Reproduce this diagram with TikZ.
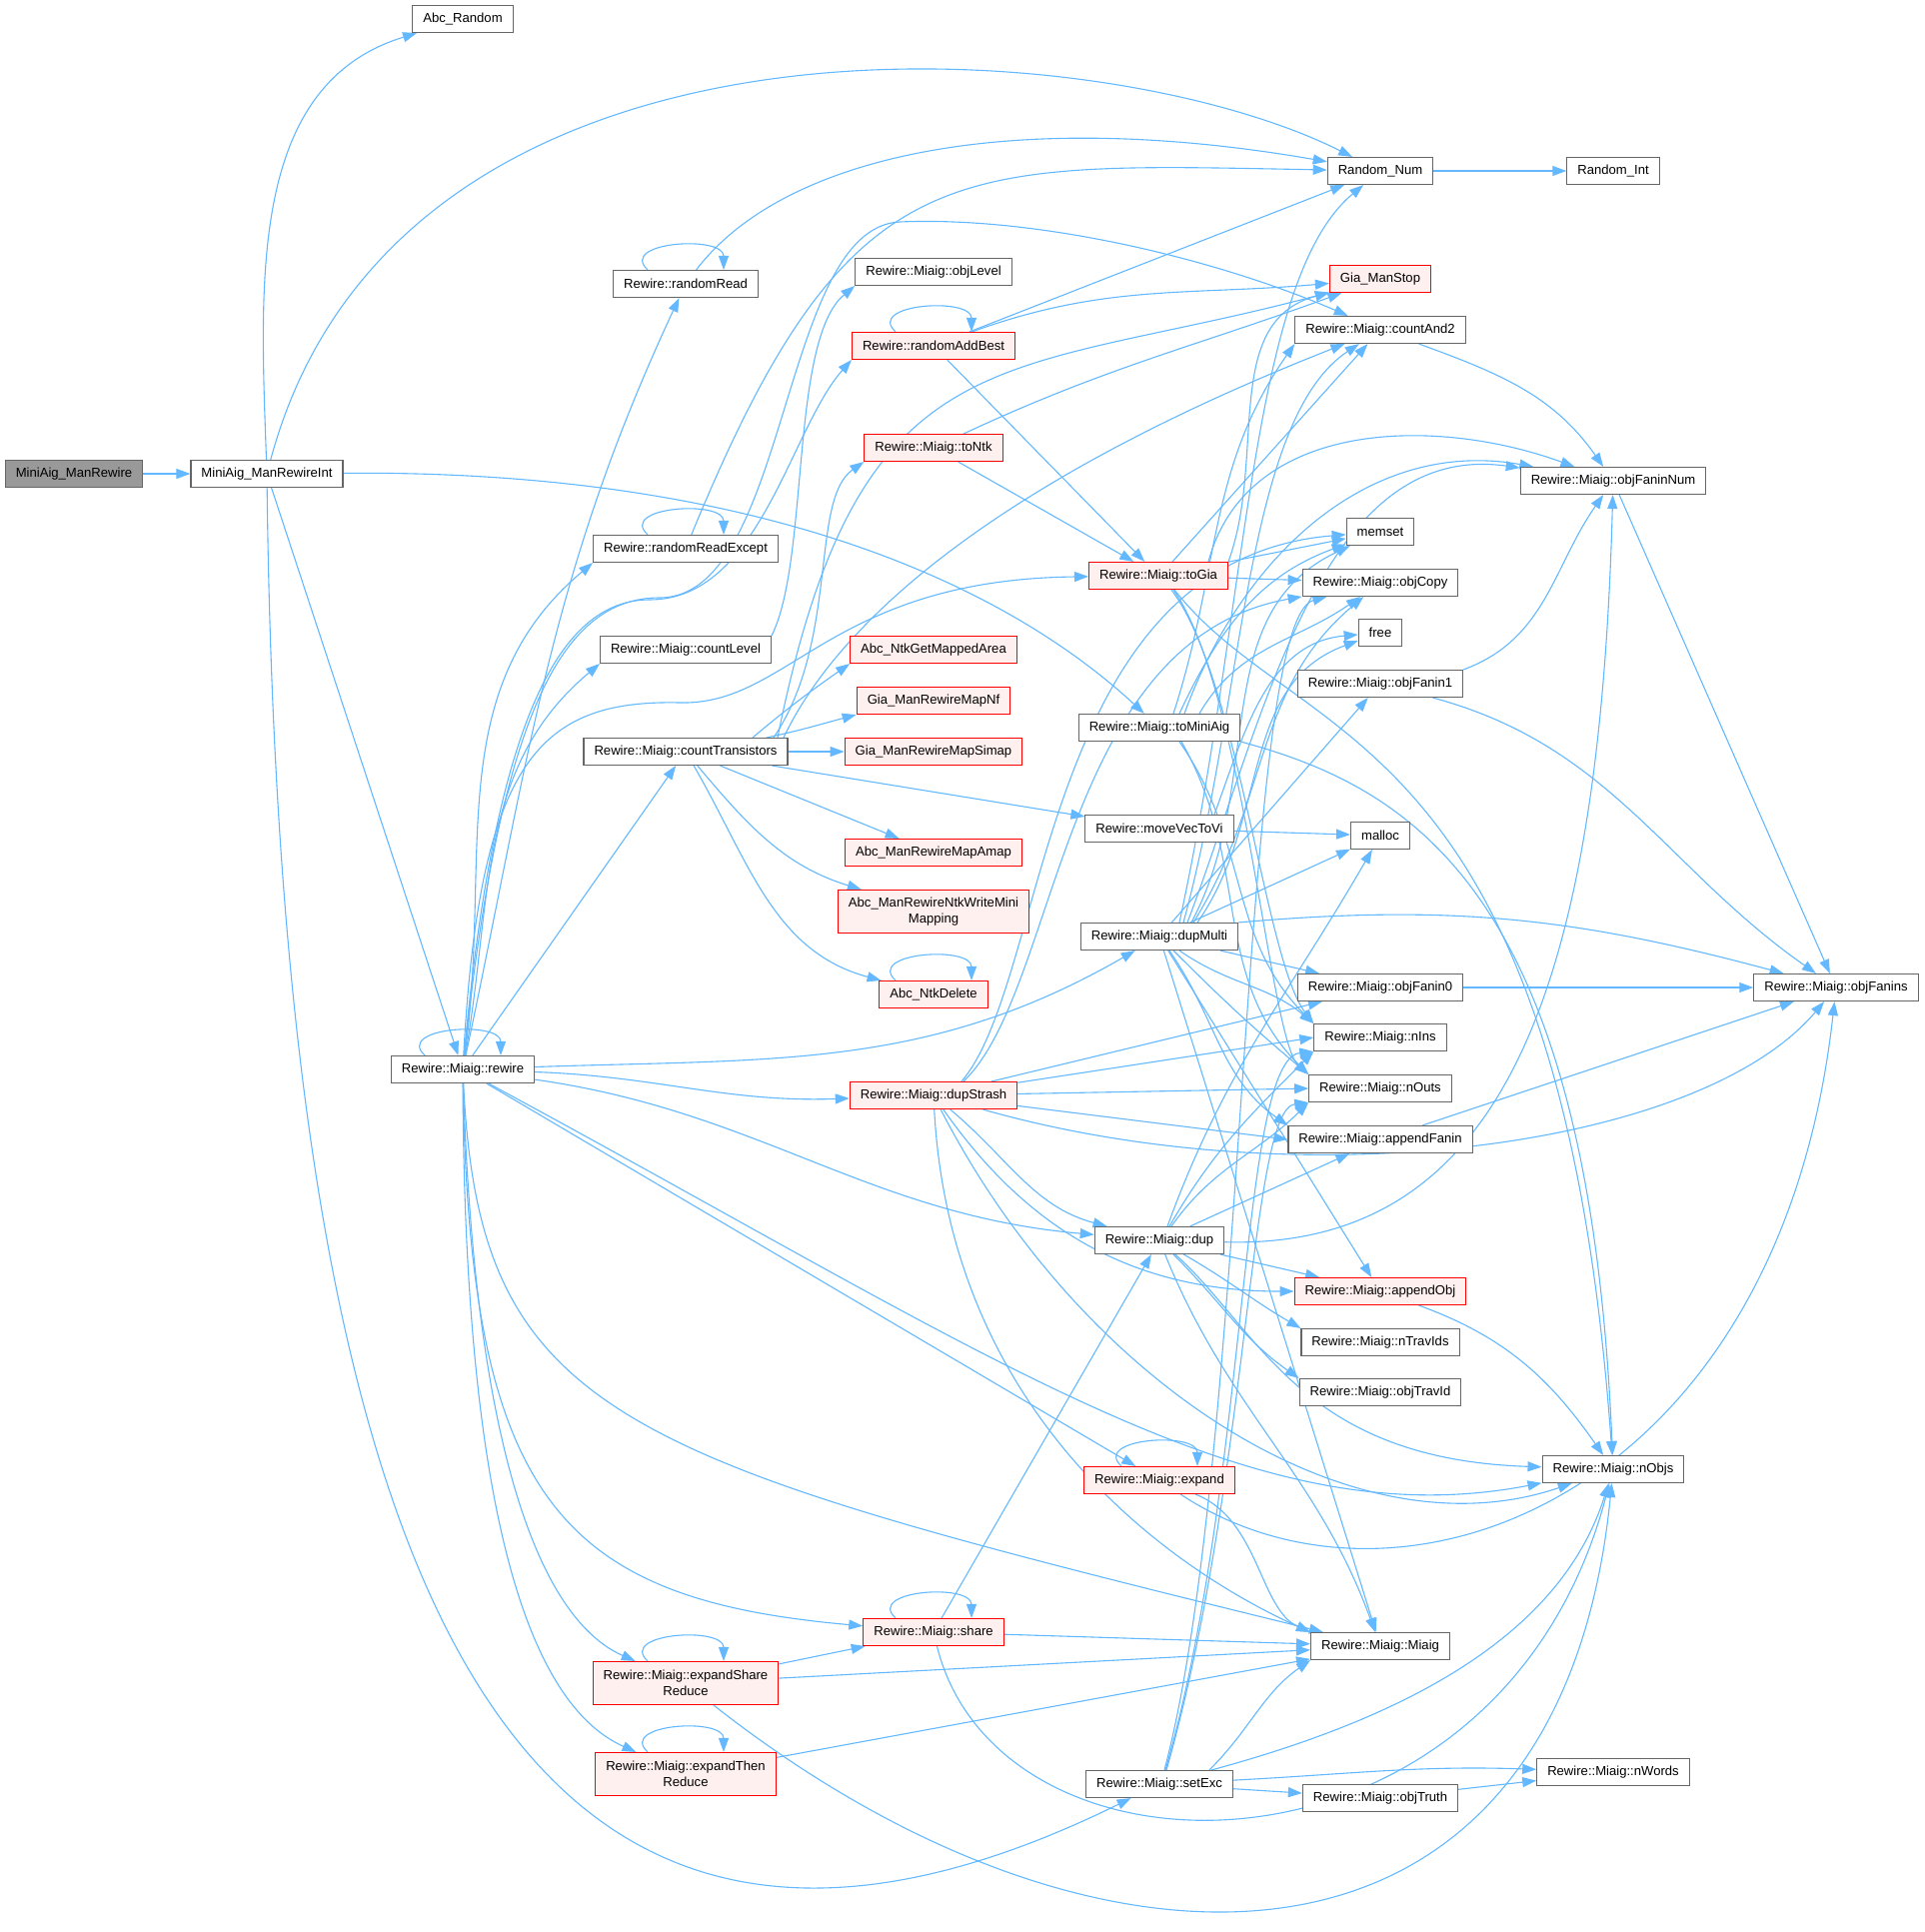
\documentclass[tikz,border=0pt]{standalone}
\usepackage{fontspec}
\setmainfont{Liberation Sans}
\usetikzlibrary{arrows.meta}
\definecolor{edgeBlue}{HTML}{63B8FF}
\definecolor{redFill}{HTML}{FFF0F0}
\definecolor{rootFill}{HTML}{999999}
\definecolor{borderGray}{HTML}{666666}
\pgfdeclarelayer{background}
\pgfsetlayers{background,main}

\begin{document}
\begin{tikzpicture}[x=1pt, y=1pt,
    fnbox/.style={draw=borderGray, line width=1.1pt, fill=white,
                  font=\fontsize{13.1}{16}\selectfont, inner xsep=10.5pt,
                  inner ysep=0pt, minimum height=27pt, align=center},
    redbox/.style={fnbox, draw=red, fill=redFill},
    rootbox/.style={fnbox, fill=rootFill},
    twoline/.style={minimum height=43pt},
    call/.style={draw=edgeBlue, line width=1.1pt, -{Triangle[length=14pt, width=10pt]}}
]
    \useasboundingbox (0,0) rectangle (1926,-1933);

    % callers on the left
    \node[rootbox] (root) at (74,-474) {MiniAig\_ManRewire};
    \node[fnbox] (rwint) at (267,-474) {MiniAig\_ManRewireInt};
    \node[fnbox] (abcrand) at (463,-19) {Abc\_Random};
    \node[fnbox] (rewire) at (463,-1070) {Rewire::Miaig::rewire};

    % second column
    \node[fnbox] (rread) at (686,-284) {Rewire::randomRead};
    \node[fnbox] (rreadex) at (686,-549) {Rewire::randomReadExcept};
    \node[fnbox] (clevel) at (686,-650) {Rewire::Miaig::countLevel};
    \node[fnbox] (ctrans) at (686,-752) {Rewire::Miaig::countTransistors};
    \node[redbox, twoline] (esr) at (686,-1684) {Rewire::Miaig::expandShare\\Reduce};
    \node[redbox, twoline] (etr) at (686,-1775) {Rewire::Miaig::expandThen\\Reduce};

    % third column
    \node[fnbox] (objlevel) at (934,-272) {Rewire::Miaig::objLevel};
    \node[redbox] (rabest) at (934,-346) {Rewire::randomAddBest};
    \node[redbox] (tontk) at (934,-448) {Rewire::Miaig::toNtk};
    \node[redbox] (mapped) at (934,-650) {Abc\_NtkGetMappedArea};
    \node[redbox] (mapnf) at (934,-701) {Gia\_ManRewireMapNf};
    \node[redbox] (mapsimap) at (934,-752) {Gia\_ManRewireMapSimap};
    \node[redbox] (mapamap) at (934,-853) {Abc\_ManRewireMapAmap};
    \node[redbox, twoline] (writemini) at (934,-912) {Abc\_ManRewireNtkWriteMini\\Mapping};
    \node[redbox] (ntkdel) at (934,-995) {Abc\_NtkDelete};
    \node[redbox] (dupstrash) at (934,-1096) {Rewire::Miaig::dupStrash};
    \node[redbox] (share) at (934,-1633) {Rewire::Miaig::share};

    % fourth column
    \node[redbox] (togia) at (1159,-576) {Rewire::Miaig::toGia};
    \node[fnbox] (tomini) at (1160,-728) {Rewire::Miaig::toMiniAig};
    \node[fnbox] (movevec) at (1160,-829) {Rewire::moveVecToVi};
    \node[fnbox] (dupmulti) at (1160,-937) {Rewire::Miaig::dupMulti};
    \node[fnbox] (dup) at (1160,-1241) {Rewire::Miaig::dup};
    \node[redbox] (expand) at (1160,-1481) {Rewire::Miaig::expand};
    \node[fnbox] (setexc) at (1160,-1785) {Rewire::Miaig::setExc};

    % fifth column
    \node[fnbox] (rnum) at (1381,-171) {Random\_Num};
    \node[redbox] (giastop) at (1381,-279) {Gia\_ManStop};
    \node[fnbox] (cand2) at (1381,-330) {Rewire::Miaig::countAnd2};
    \node[fnbox] (memset) at (1381,-532) {memset};
    \node[fnbox] (objcopy) at (1381,-583) {Rewire::Miaig::objCopy};
    \node[fnbox] (free) at (1381,-633) {free};
    \node[fnbox] (fanin1) at (1381,-684) {Rewire::Miaig::objFanin1};
    \node[fnbox] (malloc) at (1381,-836) {malloc};
    \node[fnbox] (fanin0) at (1381,-988) {Rewire::Miaig::objFanin0};
    \node[fnbox] (nins) at (1381,-1038) {Rewire::Miaig::nIns};
    \node[fnbox] (nouts) at (1381,-1089) {Rewire::Miaig::nOuts};
    \node[fnbox] (appfanin) at (1381,-1140) {Rewire::Miaig::appendFanin};
    \node[redbox] (appobj) at (1381,-1292) {Rewire::Miaig::appendObj};
    \node[fnbox] (ntrav) at (1381,-1343) {Rewire::Miaig::nTravIds};
    \node[fnbox] (travid) at (1381,-1393) {Rewire::Miaig::objTravId};
    \node[fnbox] (miaig) at (1381,-1647) {Rewire::Miaig::Miaig};
    \node[fnbox] (objtruth) at (1381,-1799) {Rewire::Miaig::objTruth};

    % right columns
    \node[fnbox] (rint) at (1614,-171) {Random\_Int};
    \node[fnbox] (faninnum) at (1614,-481) {Rewire::Miaig::objFaninNum};
    \node[fnbox] (nobjs) at (1614,-1470) {Rewire::Miaig::nObjs};
    \node[fnbox] (nwords) at (1614,-1773) {Rewire::Miaig::nWords};
    \node[fnbox] (fanins) at (1837,-988) {Rewire::Miaig::objFanins};

    \begin{pgfonlayer}{background}
    % recursive calls
    \foreach \n in {rewire, rread, rreadex, rabest, ntkdel, expand, share, esr, etr}
        \draw[call] ([xshift=-38pt]\n.north) .. controls +(-30,28) and +(0,35) .. ([xshift=38pt]\n.north);

    % MiniAig_ManRewireInt
    \draw[call] (root) -- (rwint);
    \draw[call] (rwint) to[out=92, in=197] (abcrand);
    \draw[call] (rwint) .. controls (400,20) and (1100,-30) .. (rnum);
    \draw[call] (rwint) .. controls (750,-470) and (1000,-580) .. (tomini);
    \draw[call] (rwint) -- (rewire);
    \draw[call] (rwint) .. controls (280,-1520) and (480,-2120) .. (setexc);
    \draw[call] (rnum) -- (rint);

    % rewire
    \draw[call] (rewire) to[out=78, in=245] (rread);
    \draw[call] (rewire) to[out=82, in=220] (rreadex.south west);
    \draw[call] (rewire) to[out=80, in=220] (clevel.south west);
    \draw[call] (rewire) -- (ctrans);
    \draw[call] (rewire) .. controls (495,-720) and (560,-600) .. (650,-600)
        .. controls (760,-600) and (790,-430) .. (rabest.south west);
    \draw[call] (rewire) .. controls (500,-720) and (560,-598) .. (660,-598)
        .. controls (790,-598) and (780,-228) .. (900,-222)
        .. controls (1040,-216) and (1220,-260) .. (cand2);
    \draw[call] (rewire) .. controls (480,-760) and (540,-700) .. (680,-703)
        .. controls (790,-706) and (830,-580) .. (togia);
    \draw[call] (rewire) to[out=2, in=210] (dupmulti);
    \draw[call] (rewire) to[out=-2, in=182] (dupstrash);
    \draw[call] (rewire) to[out=-8, in=175] (dup);
    \draw[call] (rewire) -- (expand);
    \draw[call] (rewire) .. controls (1000,-1360) and (1250,-1540) .. (nobjs);
    \draw[call] (rewire) .. controls (480,-1420) and (620,-1460) .. (miaig);
    \draw[call] (rewire) .. controls (470,-1500) and (560,-1600) .. (share);
    \draw[call] (rewire) .. controls (475,-1450) and (540,-1620) .. (esr);
    \draw[call] (rewire) .. controls (465,-1550) and (540,-1710) .. (etr);

    \draw[call] (rread) .. controls (780,-160) and (1000,-105) .. (rnum);
    \draw[call] (rreadex) .. controls (850,-150) and (950,-163) .. (rnum);
    \draw[call] (clevel.north east) .. controls (810,-560) and (790,-340) .. (objlevel.south west);

    % countTransistors
    \draw[call] ([xshift=67pt]ctrans.north) to[out=40, in=215] (mapped.south west);
    \draw[call] ([xshift=81pt]ctrans.north) to[out=12, in=195] (mapnf.south west);
    \draw[call] (ctrans) -- (mapsimap);
    \draw[call] (ctrans) -- (mapamap);
    \draw[call] (ctrans) to[out=-50, in=163] (writemini);
    \draw[call] (ctrans) to[out=-60, in=165] (ntkdel);
    \draw[call] (ctrans) -- (movevec);
    \draw[call] ([xshift=88pt]ctrans.north) .. controls (840,-640) and (810,-500) .. (tontk.south west);
    \draw[call] ([xshift=92pt]ctrans.north) .. controls (860,-330) and (1000,-380) .. (giastop);
    \draw[call] ([xshift=98pt]ctrans.north) .. controls (840,-620) and (1000,-480) .. (cand2);

    \draw[call] (rabest) -- (rnum);
    \draw[call] (rabest) to[out=20, in=185] (giastop);
    \draw[call] (rabest) -- (togia);
    \draw[call] (tontk) to[out=25, in=200] (giastop);
    \draw[call] (tontk) -- (togia);

    % toGia, toMiniAig, moveVecToVi
    \draw[call] (togia.north east) to[out=70, in=195] (giastop);
    \draw[call] ([xshift=14pt]togia.north) -- (cand2);
    \draw[call] ([xshift=50pt]togia.north) to[out=75, in=160] (faninnum);
    \draw[call] (togia) -- (memset);
    \draw[call] (togia) -- (objcopy);
    \draw[call] ([xshift=13pt]togia.south) .. controls (1240,-680) and (1265,-960) .. (nins.north west);
    \draw[call] ([xshift=15pt]togia.south) .. controls (1245,-690) and (1270,-1040) .. (nouts.north west);
    \draw[call] ([xshift=16pt]togia.south) .. controls (1300,-750) and (1560,-720) .. (nobjs);

    \draw[call] ([xshift=14pt]tomini.north) to[out=72, in=235] (cand2.south west);
    \draw[call] ([xshift=20pt]tomini.north) to[out=65, in=200] (memset);
    \draw[call] ([xshift=40pt]tomini.north) to[out=60, in=215] (objcopy);
    \draw[call] ([xshift=25pt]tomini.north) to[out=70, in=170] (faninnum);
    \draw[call] ([xshift=20pt]tomini.south) to[out=-55, in=135] (nins.north west);
    \draw[call] ([xshift=22pt]tomini.south) to[out=-60, in=135] (nouts.north west);
    \draw[call] (tomini.south east) .. controls (1420,-790) and (1590,-900) .. (nobjs);

    \draw[call] (movevec) -- (malloc);
    \draw[call] ([xshift=55pt]movevec.north) to[out=70, in=185] (free);

    % dupMulti
    \draw[call] ([xshift=20pt]dupmulti.north) .. controls (1250,-600) and (1250,-280) .. (rnum);
    \draw[call] ([xshift=24pt]dupmulti.north) .. controls (1245,-700) and (1245,-420) .. (cand2);
    \draw[call] ([xshift=28pt]dupmulti.north) .. controls (1265,-720) and (1320,-440) .. (faninnum);
    \draw[call] ([xshift=32pt]dupmulti.north) to[out=62, in=205] (memset);
    \draw[call] ([xshift=34pt]dupmulti.north) to[out=58, in=220] (objcopy);
    \draw[call] ([xshift=38pt]dupmulti.north) to[out=55, in=200] (free);
    \draw[call] (dupmulti) -- (fanin1);
    \draw[call] (dupmulti) -- (malloc);
    \draw[call] (dupmulti.north east) to[out=5, in=165] (fanins);
    \draw[call] (dupmulti) -- (fanin0);
    \draw[call] (dupmulti) to[out=-35, in=140] (nins.north west);
    \draw[call] (dupmulti) to[out=-45, in=140] (nouts.north west);
    \draw[call] (dupmulti) to[out=-55, in=145] (appfanin.north west);
    \draw[call] (dupmulti) -- (appobj);
    \draw[call] (dupmulti) -- (miaig);

    % dupStrash
    \draw[call] ([xshift=28pt]dupstrash.north) .. controls (1050,-980) and (1040,-560) .. (memset);
    \draw[call] ([xshift=30pt]dupstrash.north) .. controls (1060,-990) and (1060,-640) .. (objcopy);
    \draw[call] (dupstrash) -- (fanin0);
    \draw[call] (dupstrash) -- (nins.west);
    \draw[call] (dupstrash) -- (nouts.west);
    \draw[call] (dupstrash) -- (appfanin.west);
    \draw[call] (dupstrash) .. controls (1300,-1200) and (1700,-1150) .. (fanins);
    \draw[call] (dupstrash) to[out=-40, in=165] (dup);
    \draw[call] (dupstrash) to[out=-55, in=180] (appobj);
    \draw[call] (dupstrash) .. controls (1080,-1380) and (1350,-1560) .. (nobjs);
    \draw[call] (dupstrash) .. controls (950,-1400) and (1150,-1560) .. (miaig.north west);

    % dup
    \draw[call] (dup) .. controls (1500,-1250) and (1600,-1000) .. (faninnum);
    \draw[call] ([xshift=8pt]dup.north) to[out=70, in=240] (malloc);
    \draw[call] ([xshift=10pt]dup.north) to[out=60, in=225] (nins.south west);
    \draw[call] ([xshift=12pt]dup.north) to[out=55, in=225] (nouts.south west);
    \draw[call] (dup) -- (appfanin);
    \draw[call] (dup) -- (appobj);
    \draw[call] (dup) to[out=-30, in=150] (ntrav.north west);
    \draw[call] (dup) to[out=-45, in=145] (travid.north west);
    \draw[call] (dup) .. controls (1260,-1330) and (1300,-1460) .. (nobjs);
    \draw[call] (dup) to[out=-68, in=110] (miaig);

    % expand, share, expandShareReduce, expandThenReduce
    \draw[call] (expand) .. controls (1260,-1520) and (1260,-1610) .. (miaig.north west);
    \draw[call] (expand) .. controls (1400,-1640) and (1780,-1500) .. (fanins);
    \draw[call] (share) -- (dup);
    \draw[call] (share) -- (miaig);
    \draw[call] (share) .. controls (1000,-1900) and (1500,-1900) .. (nobjs);
    \draw[call] (esr) -- (share);
    \draw[call] (esr) -- (miaig);
    \draw[call] (esr) .. controls (1100,-2010) and (1560,-2010) .. (nobjs);
    \draw[call] (etr) -- (miaig);

    % setExc
    \draw[call] ([xshift=5pt]setexc.north) .. controls (1250,-1450) and (1240,-620) .. (objcopy);
    \draw[call] ([xshift=6pt]setexc.north) .. controls (1250,-1480) and (1240,-1060) .. (nins.south west);
    \draw[call] ([xshift=7pt]setexc.north) .. controls (1250,-1480) and (1250,-1110) .. (nouts.south west);
    \draw[call] ([xshift=50pt]setexc.north) to[out=45, in=215] (miaig.south west);
    \draw[call] ([xshift=52pt]setexc.north) .. controls (1400,-1720) and (1560,-1640) .. (nobjs);
    \draw[call] (setexc) to[out=3, in=178] (nwords);
    \draw[call] (setexc) -- (objtruth);
    \draw[call] (objtruth) -- (nwords);

    % small helpers
    \draw[call] (cand2) to[out=-20, in=125] (faninnum);
    \draw[call] (fanin1.north east) to[out=20, in=235] (faninnum);
    \draw[call] (fanin1) to[out=-15, in=145] (fanins);
    \draw[call] (faninnum) -- (fanins);
    \draw[call] (fanin0) -- (fanins);
    \draw[call] (appfanin) -- (fanins);
    \draw[call] (appobj) to[out=-20, in=125] (nobjs);
    \end{pgfonlayer}
\end{tikzpicture}
\end{document}
